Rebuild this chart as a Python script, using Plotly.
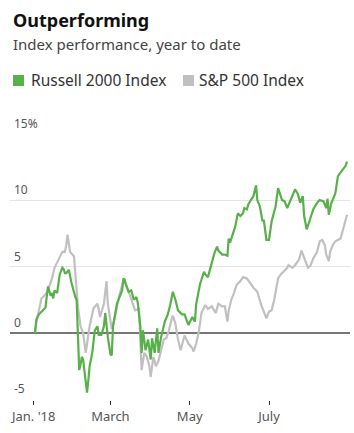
import pandas as pd
import plotly.graph_objects as go

# ---- data (day of year 2018, percent change year to date) ----
russell_doy = [2, 3, 5, 7, 10, 12, 14, 15, 16, 17, 19, 21, 23, 24, 25, 26, 28, 30, 32, 33, 34,
               36, 37, 38, 39, 41, 42, 43, 44, 46, 47, 48, 50, 51, 53, 55, 56, 57, 58, 60, 61,
               62, 64, 65, 67, 69, 70, 71, 72, 74, 76, 78, 80, 81, 83, 84, 85, 87, 89, 91, 92,
               94, 96, 97, 99, 101, 102, 104, 106, 108, 110, 112, 115, 117, 120, 123, 125, 126,
               129, 132, 133, 135, 138, 140, 142, 143, 146, 148, 150, 151, 152, 154, 156, 158,
               160, 162, 163, 165, 166, 168, 170, 172, 173, 175, 177, 178, 180, 182, 184, 187,
               189, 192, 194, 196, 199, 202, 204, 206, 208, 209, 211, 214, 216, 219, 221, 224,
               226, 227, 228, 230, 233, 235, 237, 239, 241, 242]
russell_pct = [0.0, 1.0, 1.4, 1.6, 1.9, 3.5, 2.8, 3.0, 2.6, 3.2, 3.0, 4.4, 4.9, 4.8, 4.5, 4.5,
               4.75, 3.8, 3.0, 2.7, 2.5, -2.8, -2.4, -1.8, -2.0, -3.5, -4.5, -3.6, -2.5, -1.5,
               -0.5, 0.2, 0.5, -0.15, -0.15, 0.5, 1.5, 0.5, -0.3, -1.6, -1.7, 0.5, 1.7, 2.2,
               2.7, 3.2, 4.1, 4.0, 3.6, 3.1, 3.2, 2.5, 2.7, 2.3, 0.5, -1.5, 0.2, -1.3, -0.5,
               -2.0, -0.4, -1.5, 0.35, -1.5, -0.3, 0.6, 0.9, 1.35, 2.1, 3.1, 2.5, 1.7, 1.4,
               1.4, 0.6, 1.2, 0.85, 2.2, 3.7, 4.6, 4.4, 4.2, 5.4, 6.0, 6.5, 6.2, 5.9, 5.9, 5.8,
               7.1, 6.8, 7.4, 8.0, 9.0, 8.8, 9.0, 9.4, 9.3, 9.65, 10.0, 10.3, 11.1, 10.0, 9.5,
               8.4, 8.5, 7.0, 7.0, 8.4, 9.5, 10.9, 10.0, 9.9, 9.4, 10.15, 10.8, 10.5, 9.8,
               10.3, 8.8, 7.8, 8.8, 9.3, 9.8, 10.0, 9.9, 9.4, 10.1, 8.9, 9.8, 10.5, 11.8, 12.1,
               12.4, 12.6, 12.9]

sp_doy = [2, 3, 5, 7, 10, 12, 15, 17, 20, 23, 25, 26, 27, 28, 29, 32, 34, 35, 37, 39, 41, 42,
          44, 47, 50, 51, 52, 55, 57, 58, 60, 61, 63, 65, 67, 70, 72, 74, 76, 79, 82, 83, 84,
          86, 88, 90, 91, 93, 95, 97, 99, 101, 103, 105, 107, 108, 110, 112, 114, 116, 117,
          120, 123, 124, 126, 128, 130, 133, 135, 138, 141, 143, 146, 148, 150, 151, 153, 155,
          157, 160, 162, 165, 167, 170, 173, 174, 176, 178, 180, 182, 184, 186, 189, 191, 193,
          196, 197, 200, 202, 205, 207, 208, 210, 212, 214, 216, 219, 221, 223, 225, 226, 228,
          229, 231, 233, 235, 237, 239, 241, 242]
sp_pct = [0.0, 0.8, 1.7, 2.6, 2.9, 3.2, 4.1, 4.9, 5.5, 6.1, 6.1, 6.6, 7.4, 6.6, 6.1, 5.75,
          3.5, 2.0, 0.5, 0.0, -1.5, -0.8, 0.5, 1.85, 2.2, 1.8, 1.2, 2.2, 3.9, 2.2, 1.0, 0.3,
          1.0, 2.0, 2.9, 3.9, 3.7, 3.1, 2.5, 1.7, 1.8, -0.3, -2.8, -1.5, -1.8, -2.5, -3.3,
          -1.8, -2.5, -2.1, -1.4, -0.5, -0.4, 0.2, 1.0, 1.3, 0.7, -0.5, -1.3, -0.5, -0.2,
          -0.8, -1.15, -1.4, -0.8, 0.1, 1.5, 2.1, 1.8, 2.0, 1.5, 2.2, 2.0, 2.0, 0.85, 1.7,
          2.5, 3.0, 3.6, 3.9, 4.2, 4.1, 3.8, 3.4, 3.1, 2.7, 2.1, 1.6, 1.1, 1.6, 1.7, 2.5, 4.1,
          4.4, 4.6, 4.9, 5.1, 4.9, 5.1, 5.5, 6.2, 5.9, 5.4, 4.9, 5.1, 5.6, 6.1, 6.9, 7.0, 6.6,
          5.9, 5.4, 6.1, 6.6, 6.9, 7.0, 7.1, 7.8, 8.5, 8.9]

series_names = ["Russell 2000 Index", "S&P 500 Index"]
tick_dates = ["2018-01-01", "2018-03-01", "2018-05-01", "2018-07-01"]
tick_labels = ["Jan. '18", "March", "May", "July"]
y_ticks = [15, 10, 5, 0, -5]
y_tick_labels = ["15%", "10", "5", "0", "-5"]

GREEN = "#58b04a"
GRAY = "#c0c0c0"
FONT = "Noto Sans"

base = pd.Timestamp("2017-12-31")
r_dates = base + pd.to_timedelta(russell_doy, unit="D")
s_dates = base + pd.to_timedelta(sp_doy, unit="D")

W, H = 354, 433
L, R, T, B = 10, 4, 133, 33
PW, PH = W - L - R, H - T - B


def px(x):
    return (x - L) / PW


def py(y):
    return (H - B - y) / PH


fig = go.Figure()
fig.add_trace(go.Scatter(x=s_dates, y=sp_pct, mode="lines", name=series_names[1],
                         line=dict(color=GRAY, width=2.2), showlegend=False))
fig.add_trace(go.Scatter(x=r_dates, y=russell_pct, mode="lines", name=series_names[0],
                         line=dict(color=GREEN, width=2.2), showlegend=False))

ann = []
# title and subtitle
ann.append(dict(text="<b>Outperforming</b>", x=px(11), y=py(20), xref="paper", yref="paper",
                xanchor="left", yanchor="middle", showarrow=False,
                font=dict(family=FONT, size=18, color="#111")))
ann.append(dict(text="Index performance, year to date", x=px(11), y=py(44), xref="paper",
                yref="paper", xanchor="left", yanchor="middle", showarrow=False,
                font=dict(family=FONT, size=15, color="#444")))
# legend
for name, tx in [(series_names[0], 29), (series_names[1], 197)]:
    ann.append(dict(text=name, x=px(tx), y=py(80), xref="paper", yref="paper",
                    xanchor="left", yanchor="middle", showarrow=False,
                    font=dict(family=FONT, size=15.5, color="#333")))

shapes = []
for col, sx in [(GREEN, 13), (GRAY, 183)]:
    shapes.append(dict(type="rect", xref="paper", yref="paper", x0=px(sx), x1=px(sx + 11),
                       y0=py(86), y1=py(75), fillcolor=col, line=dict(width=0)))

# y labels above gridlines
for v, t in zip(y_ticks, y_tick_labels):
    ann.append(dict(text=t, x=px(12), y=v, xref="paper", yref="y", xanchor="left",
                    yanchor="bottom", yshift=0, showarrow=False,
                    font=dict(family=FONT, size=12, color="#555")))

fig.update_layout(
    width=W, height=H, margin=dict(l=L, r=R, t=T, b=B),
    paper_bgcolor="white", plot_bgcolor="white",
    annotations=ann, shapes=shapes, showlegend=False,
    xaxis=dict(type="date", range=["2017-12-13 18:00", "2018-09-01 07:00"],
               tickvals=tick_dates, ticktext=tick_labels, ticks="outside", ticklen=4,
               tickcolor="#333", tickwidth=1, showgrid=False, zeroline=False,
               showline=False, tickfont=dict(family=FONT, size=13, color="#555")),
    yaxis=dict(range=[-5.05, 15.05], tickvals=y_ticks, showticklabels=False, showgrid=True,
               gridcolor="#e4e4e4", gridwidth=1, zeroline=True, zerolinecolor="#777",
               zerolinewidth=1.5, showline=False, ticks=""),
)

fig.write_html("out.html")
